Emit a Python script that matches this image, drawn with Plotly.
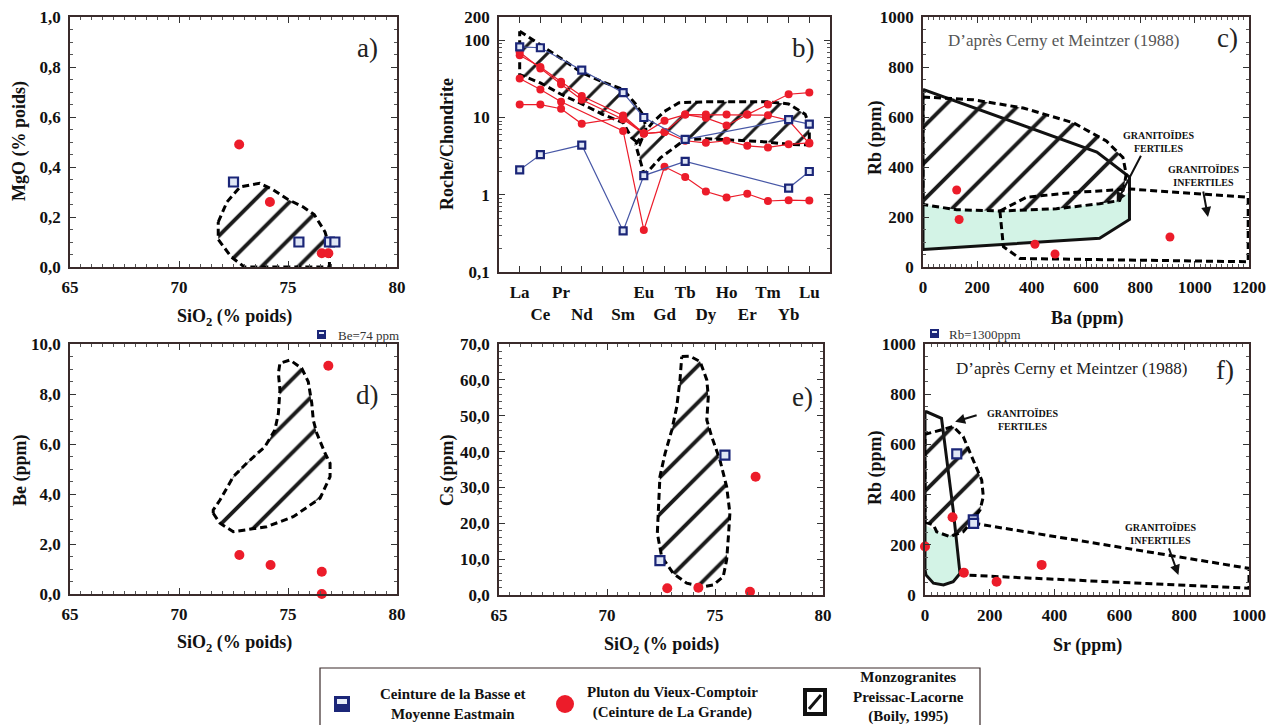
import plotly.graph_objects as go

OFF = 8                      # page body margin
W, H = 1274 - OFF, 725 - OFF  # figure size so that it fits the 1274x725 window
SERIF = "Liberation Serif"
RED = "#ec1c2a"
NAVY = "#1b2678"
BLUE_LINE = "#4757a6"
GREEN = "#d3f3e6"

# ---------------- data ----------------
# a) MgO vs SiO2
a_blue_sio2 = [72.5, 75.5, 76.9, 77.15]
a_blue_mgo = [0.34, 0.10, 0.10, 0.10]
a_red_sio2 = [72.76, 74.17, 76.55, 76.85]
a_red_mgo = [0.49, 0.26, 0.055, 0.055]
a_field_sio2 = [71.8, 72.2, 72.8, 73.7, 74.3, 75.0, 75.7, 76.2, 76.7, 76.9, 76.9, 73.0, 72.4, 71.8, 71.8]
a_field_mgo = [0.18, 0.26, 0.32, 0.335, 0.31, 0.27, 0.24, 0.21, 0.14, 0.08, 0.0, 0.0, 0.04, 0.11, 0.18]

# b) REE / chondrite
ree_labels = ["La", "Ce", "Pr", "Nd", "", "Sm", "Eu", "Gd", "Tb", "Dy", "Ho", "Er", "Tm", "Yb", "Lu"]
ree_pos = list(range(1, 16))
b_blue = [
    [82, 80, None, 41, None, 21, 10, None, 5.2, None, None, None, None, 9.4, 8.2],
    [2.1, 3.3, None, 4.4, None, 0.34, 1.77, None, 2.7, None, None, None, None, 1.22, 2.0],
]
b_red = [
    [64, 45, 29, 19, None, 10.6, 6.2, 9.1, 10.9, 9.9, 7.9, 10.9, 14.7, 20, 21],
    [70, 43, 27, 17, None, 9.5, 6.2, 6.5, 10.9, 10.9, 10.9, 10.9, 10.7, 9.2, 4.6],
    [32, 23, 16, None, None, 6.7, 0.35, 2.3, 1.7, 1.1, 0.92, 1.03, 0.83, 0.85, 0.84],
    [14.7, 14.7, 13, 8.3, None, 10, 6.2, 6.5, 5.0, 4.7, 5.0, 4.3, 4.1, 4.5, 4.7],
]
b_lree_x = [1, 2, 3, 4, 5, 6, 6.6, 7, 7.1, 6.8, 6.4, 6, 5, 4, 3, 2, 1, 1]
b_lree_y = [131, 88, 58, 38, 29, 23, 15, 10.5, 7, 4.5, 5.5, 8.6, 11, 15, 20, 28, 36, 131]
b_hree_x = [6.6, 7.4, 8, 8.7, 10, 12, 13, 14, 14.8, 15, 15, 14, 13, 12, 11, 10, 9, 8.4, 7.8, 7.2, 7.0, 6.6]
b_hree_y = [4.5, 8.5, 12, 15.5, 16, 16, 16, 15, 11, 8, 4.4, 4.5, 4.8, 5, 5.2, 5.3, 5.2, 4, 3, 2.0, 1.9, 4.5]

# c) Rb vs Ba
c_red_ba = [124, 133, 412, 486, 909]
c_red_rb = [308, 190, 91, 52, 120]
c_solid_ba = [0, 640, 760, 760, 650, 0, 0]
c_solid_rb = [710, 460, 360, 190, 115, 70, 710]
c_green_ba = [0, 124, 283, 491, 650, 713, 760, 760, 650, 0, 0]
c_green_rb = [250, 229, 224, 233, 253, 268, 300, 190, 115, 70, 250]
c_field_ba = [0, 185, 369, 553, 675, 736, 748, 740, 724, 650, 491, 283, 124, 0, 0]
c_field_rb = [680, 669, 636, 577, 504, 438, 372, 320, 266, 253, 233, 224, 229, 250, 680]
c_infert_ba = [283, 381, 553, 762, 1197, 1197, 357, 296, 283]
c_infert_rb = [224, 279, 298, 312, 279, 21, 34, 81, 224]

# d) Be vs SiO2
d_red_sio2 = [72.77, 74.2, 76.55, 76.55, 76.85]
d_red_be = [1.56, 1.16, 0.89, 0.0, 9.13]
d_field_sio2 = [71.57, 71.88, 72.49, 73.10, 74.02, 75.24, 76.47, 76.93, 76.93, 76.70, 76.32, 76.16,
                76.09, 75.93, 75.63, 75.09, 74.63, 74.56, 74.63, 74.56, 74.40, 73.94, 73.10, 72.49,
                71.88, 71.57, 71.57]
d_field_be = [3.23, 2.83, 2.49, 2.56, 2.69, 3.09, 3.83, 4.69, 5.23, 5.63, 6.43, 6.96,
              7.63, 8.49, 9.03, 9.36, 9.23, 8.83, 8.16, 7.23, 6.56, 5.89, 5.23, 4.69,
              3.76, 3.36, 3.23]

# e) Cs vs SiO2
e_blue_sio2 = [72.45, 75.46]
e_blue_cs = [9.6, 39.0]
e_red_sio2 = [72.79, 74.23, 76.62, 76.88]
e_red_cs = [1.9, 2.0, 0.9, 33.0]
e_field_sio2 = [73.46, 73.84, 74.31, 74.62, 74.69, 74.62, 74.85, 75.23, 75.54, 75.69, 75.62, 75.54,
                75.38, 74.92, 74.46, 73.69, 73.07, 72.53, 72.33, 72.38, 72.45, 72.69, 73.0, 73.23,
                73.38, 73.46]
e_field_cs = [66.5, 66.6, 65.1, 60.0, 55.3, 48.8, 44.1, 37.6, 30.2, 22.8, 16.3, 9.8,
              5.1, 2.8, 2.3, 3.3, 6.0, 10.7, 17.2, 22.8, 33.0, 39.5, 46.0, 52.5,
              60.0, 66.5]

# f) Rb vs Sr
f_blue_sr = [98, 149, 150]
f_blue_rb = [562, 299, 285]
f_red_sr = [0, 85, 120, 221, 360]
f_red_rb = [193, 310, 89, 53, 120]
f_solid_sr = [0, 5, 51, 87, 108, 87, 57, 26, 3, 0, 0]
f_solid_rb = [730, 730, 704, 339, 86, 53, 40, 47, 80, 100, 730]
f_green_sr = [0, 36, 96, 108, 87, 57, 26, 3, 0, 0]
f_green_rb = [280, 252, 232, 86, 53, 40, 47, 80, 100, 280]
f_field_sr = [0, 26, 36, 77, 118, 149, 170, 180, 175, 149, 118, 87, 46, 0, 0]
f_field_rb = [290, 279, 252, 232, 252, 299, 339, 392, 458, 538, 631, 671, 657, 640, 290]
f_infert_sr = [149, 1000, 1000, 113]
f_infert_rb = [286, 106, 27, 80]

# ---------------- helpers (page pixel -> paper) ----------------
def xd(a, b):
    return [(a - OFF) / W, (b - OFF) / W]

def yd(top, bottom):
    return [1 - (bottom - OFF) / H, 1 - (top - OFF) / H]

def P(x, y):
    return (x - OFF) / W, 1 - (y - OFF) / H

DASH = dict(color="black", width=3, dash="7px,4px")
HATCH = dict(shape="/", fgcolor="#1a1a1a", bgcolor="rgba(0,0,0,0)", size=26, solidity=0.15, fgopacity=1)

fig = go.Figure()

def add_field(x, y, xa, ya, size=26):
    hp = dict(HATCH); hp["size"] = size
    fig.add_trace(go.Scatter(x=x, y=y, xaxis=xa, yaxis=ya, mode="lines", fill="toself",
                             fillcolor="rgba(0,0,0,0)", fillpattern=hp, line=DASH,
                             hoverinfo="skip", showlegend=False))

def add_red(x, y, xa, ya, size=10, mode="markers"):
    fig.add_trace(go.Scatter(x=x, y=y, xaxis=xa, yaxis=ya, mode=mode, connectgaps=True,
                             marker=dict(color=RED, size=size, symbol="circle"),
                             line=dict(color=RED, width=1.2), cliponaxis=False, showlegend=False))

def add_blue(x, y, xa, ya, size=9, mode="markers"):
    fig.add_trace(go.Scatter(x=x, y=y, xaxis=xa, yaxis=ya, mode=mode, connectgaps=True,
                             marker=dict(color="#dfe6f5", size=size, symbol="square",
                                         line=dict(color=NAVY, width=2.2)),
                             line=dict(color=BLUE_LINE, width=1.2), cliponaxis=False, showlegend=False))

# a
add_field(a_field_sio2, a_field_mgo, "x", "y")
add_blue(a_blue_sio2, a_blue_mgo, "x", "y")
add_red(a_red_sio2, a_red_mgo, "x", "y")

# b
add_field(b_lree_x, b_lree_y, "x2", "y2", size=20)
add_field(b_hree_x, b_hree_y, "x2", "y2", size=20)
for s in b_red:
    add_red(ree_pos, s, "x2", "y2", size=8, mode="lines+markers")
for s in b_blue:
    add_blue(ree_pos, s, "x2", "y2", size=7, mode="lines+markers")

# c
fig.add_trace(go.Scatter(x=c_green_ba, y=c_green_rb, xaxis="x3", yaxis="y3", mode="lines",
                         fill="toself", fillcolor=GREEN, line=dict(width=0), showlegend=False))
fig.add_trace(go.Scatter(x=c_solid_ba, y=c_solid_rb, xaxis="x3", yaxis="y3", mode="lines",
                         line=dict(color="#111", width=3), showlegend=False))
add_field(c_field_ba, c_field_rb, "x3", "y3", size=26)
fig.add_trace(go.Scatter(x=c_infert_ba, y=c_infert_rb, xaxis="x3", yaxis="y3", mode="lines",
                         line=DASH, showlegend=False))
add_red(c_red_ba, c_red_rb, "x3", "y3", size=9)

# d
add_field(d_field_sio2, d_field_be, "x4", "y4", size=26)
add_red(d_red_sio2, d_red_be, "x4", "y4")

# e
add_field(e_field_sio2, e_field_cs, "x5", "y5", size=26)
add_blue(e_blue_sio2, e_blue_cs, "x5", "y5")
add_red(e_red_sio2, e_red_cs, "x5", "y5")

# f
fig.add_trace(go.Scatter(x=f_green_sr, y=f_green_rb, xaxis="x6", yaxis="y6", mode="lines",
                         fill="toself", fillcolor=GREEN, line=dict(width=0), showlegend=False))
fig.add_trace(go.Scatter(x=f_solid_sr, y=f_solid_rb, xaxis="x6", yaxis="y6", mode="lines",
                         line=dict(color="#111", width=3), showlegend=False))
add_field(f_field_sr, f_field_rb, "x6", "y6", size=26)
fig.add_trace(go.Scatter(x=f_infert_sr, y=f_infert_rb, xaxis="x6", yaxis="y6", mode="lines",
                         line=DASH, showlegend=False))
add_blue(f_blue_sr, f_blue_rb, "x6", "y6")
add_red(f_red_sr, f_red_rb, "x6", "y6")

# ---------------- axes ----------------
TICKFONT = dict(family=SERIF, size=17, color="#111", weight="bold")

def axis(domain, rng, tickvals, ticktext, anchor, minor, typ="linear", ticklen=6):
    d = dict(domain=domain, range=rng, type=typ, tickmode="array", tickvals=tickvals, ticktext=ticktext,
             ticks="inside", ticklen=ticklen, tickwidth=1.3, tickcolor="#333", tickangle=0,
             showline=True, linecolor="#3a2b2b", linewidth=1.5, mirror="allticks",
             showgrid=False, zeroline=False, tickfont=TICKFONT, anchor=anchor,
             automargin=False, ticklabelstandoff=4)
    if minor is not None:
        d["minor"] = dict(ticks="inside", ticklen=3, tickcolor="#555", tickwidth=1, showgrid=False, **minor)
    return d

def comma(vals, fmt="{:.1f}"):
    return [fmt.format(v).replace(".", ",") for v in vals]

sio2_ticks = [65, 70, 75, 80]
sio2_text = [str(v) for v in sio2_ticks]

mg_t = [0, 0.2, 0.4, 0.6, 0.8, 1.0]
minor_log = [k * 10 ** e for e in (-1, 0, 1) for k in range(2, 10)]
ree_text = [lab if i % 2 == 0 else "<br>" + lab for i, lab in enumerate(ree_labels)]
ba_t = list(range(0, 1201, 200))
rb_t = list(range(0, 1001, 200))
be_t = [0, 2, 4, 6, 8, 10]
cs_t = list(range(0, 71, 10))
sr_t = list(range(0, 1001, 200))

TOP = 17  # top edge of the upper row of panels (page px)
fig.update_layout(
    xaxis=axis(xd(70, 397), [65, 80], sio2_ticks, sio2_text, "y", dict(dtick=0.5)),
    yaxis=axis(yd(TOP, 267), [0, 1], mg_t, comma(mg_t), "x", dict(dtick=0.05)),
    xaxis2=axis(xd(499, 830), [0, 16], ree_pos, ree_text, "y2", None),
    yaxis2=axis(yd(TOP, 272), [-1, 2.30103], [0.1, 1, 10, 100, 200], ["0,1", "1", "10", "100", "200"],
                "x2", dict(tickvals=minor_log), typ="log"),
    xaxis3=axis(xd(923, 1249), [0, 1200], ba_t, [str(v) for v in ba_t], "y3", dict(dtick=20)),
    yaxis3=axis(yd(TOP, 267), [0, 1000], rb_t, [str(v) for v in rb_t], "x3", dict(dtick=50)),
    xaxis4=axis(xd(70, 397), [65, 80], sio2_ticks, sio2_text, "y4", dict(dtick=0.5)),
    yaxis4=axis(yd(344, 594), [0, 10], be_t, comma(be_t), "x4", dict(dtick=0.5)),
    xaxis5=axis(xd(499, 823), [65, 80], sio2_ticks, sio2_text, "y5", dict(dtick=0.5)),
    yaxis5=axis(yd(344, 595), [0, 70], cs_t, comma(cs_t), "x5", dict(dtick=2)),
    xaxis6=axis(xd(925, 1249), [0, 1000], sr_t, [str(v) for v in sr_t], "y6", dict(dtick=20)),
    yaxis6=axis(yd(344, 595), [0, 1000], rb_t, [str(v) for v in rb_t], "x6", dict(dtick=50)),
)

# ---------------- annotations ----------------
ann = []
def text(x, y, t, size=17, color="#111", bold=False, align="center", xanchor="center", angle=0):
    px, py = P(x, y)
    ann.append(dict(x=px, y=py, xref="paper", yref="paper", text=t, showarrow=False,
                    xanchor=xanchor, yanchor="middle", align=align, textangle=angle,
                    font=dict(family=SERIF, size=size, color=color, weight="bold" if bold else "normal")))

# axis titles
sio2_title = "SiO<sub>2</sub> (% poids)"
for (x, y, t) in [(234, 317, sio2_title), (1087, 318, "Ba (ppm)"), (234, 643, sio2_title),
                  (661, 645, sio2_title), (1087, 645, "Sr (ppm)")]:
    text(x, y, t, size=18, bold=True)
for (x, y, t) in [(19, 141, "MgO (% poids)"), (447, 144, "Roche/Chondrite"), (875, 138, "Rb (ppm)"),
                  (20, 470, "Be (ppm)"), (447, 470, "Cs (ppm)"), (875, 468, "Rb (ppm)")]:
    text(x, y, t, size=18, bold=True, angle=-90)

for lab, (x, y) in {"a)": (367, 48), "b)": (803, 48), "c)": (1227, 38), "d)": (367, 395),
                    "e)": (802, 397), "f)": (1225, 370)}.items():
    text(x, y, lab, size=27, color="#222")

text(1063, 40, "D\u2019après Cerny et Meintzer (1988)", size=17, color="#555")
text(1071, 368, "D\u2019après Cerny et Meintzer (1988)", size=17, color="#222")
text(1158, 142, "GRANITOÏDES<br>FERTILES", size=10, bold=True)
text(1203, 176, "GRANITOÏDES<br>INFERTILES", size=10, bold=True)
text(1022, 419, "GRANITOÏDES<br>FERTILES", size=10, bold=True)
text(1160, 533, "GRANITOÏDES<br>INFERTILES", size=10, bold=True)
text(336, 335, "Be=74 ppm", size=13, color="#333", xanchor="left")
text(947, 334, "Rb=1300ppm", size=13, color="#333", xanchor="left")

# arrows (head in data coordinates, tail offset in px)
def arrow(x, y, xa, ya, ax, ay):
    ann.append(dict(x=x, y=y, xref=xa, yref=ya, ax=ax, ay=ay, text="", showarrow=True,
                    arrowhead=2, arrowsize=1, arrowwidth=2, arrowcolor="#111"))
arrow(713, 259, "x3", "y3", 25, -48)
arrow(1049, 200, "x3", "y3", -5, -27)
arrow(93, 690, "x6", "y6", 23, -7)
arrow(782, 80, "x6", "y6", -10, -28)

# legend texts
text(453, 704, "Ceinture de la Basse et<br>Moyenne Eastmain", size=15, bold=True)
text(672, 702, "Pluton du Vieux-Comptoir<br>(Ceinture de La Grande)", size=15, bold=True)
text(908, 697, "Monzogranites<br>Preissac-Lacorne<br>(Boily, 1995)", size=15, bold=True)

# ---------------- shapes ----------------
shapes = []
def rect(x0, y0, x1, y1, fill=None, line_color=None, lw=0):
    a0, b0 = P(x0, y0); a1, b1 = P(x1, y1)
    shapes.append(dict(type="rect", xref="paper", yref="paper", x0=a0, y0=b1, x1=a1, y1=b0,
                       fillcolor=fill or "rgba(0,0,0,0)",
                       line=dict(color=line_color or "rgba(0,0,0,0)", width=lw)))
def circle(cx, cy, r, fill):
    a0, b0 = P(cx - r, cy + r); a1, b1 = P(cx + r, cy - r)
    shapes.append(dict(type="circle", xref="paper", yref="paper", x0=a0, y0=b0, x1=a1, y1=b1,
                       fillcolor=fill, line=dict(width=0)))
def seg(x0, y0, x1, y1, color="#111", w=3):
    a0, b0 = P(x0, y0); a1, b1 = P(x1, y1)
    shapes.append(dict(type="line", xref="paper", yref="paper", x0=a0, y0=b0, x1=a1, y1=b1,
                       line=dict(color=color, width=w)))

rect(320, 668, 980, 726, line_color="#3a2b2b", lw=1.2)
rect(334, 696, 350, 712, fill=NAVY)
rect(337, 699, 347, 704, fill="#e6ecf7")
circle(565, 704, 9, RED)
rect(803, 688, 827, 716, fill="#111")
rect(807, 692, 823, 712, fill="white")
seg(809, 709, 821, 695, w=3)
rect(317, 330, 326, 339, fill=NAVY)
rect(319, 332, 324, 334, fill="#e6ecf7")
rect(930, 329, 939, 338, fill=NAVY)
rect(932, 331, 937, 333, fill="#e6ecf7")

fig.update_layout(
    width=W, height=H, margin=dict(l=0, r=0, t=0, b=0, autoexpand=False),
    paper_bgcolor="white", plot_bgcolor="white",
    showlegend=False, annotations=ann, shapes=shapes,
    font=dict(family=SERIF),
)

fig.write_html("out.html")
